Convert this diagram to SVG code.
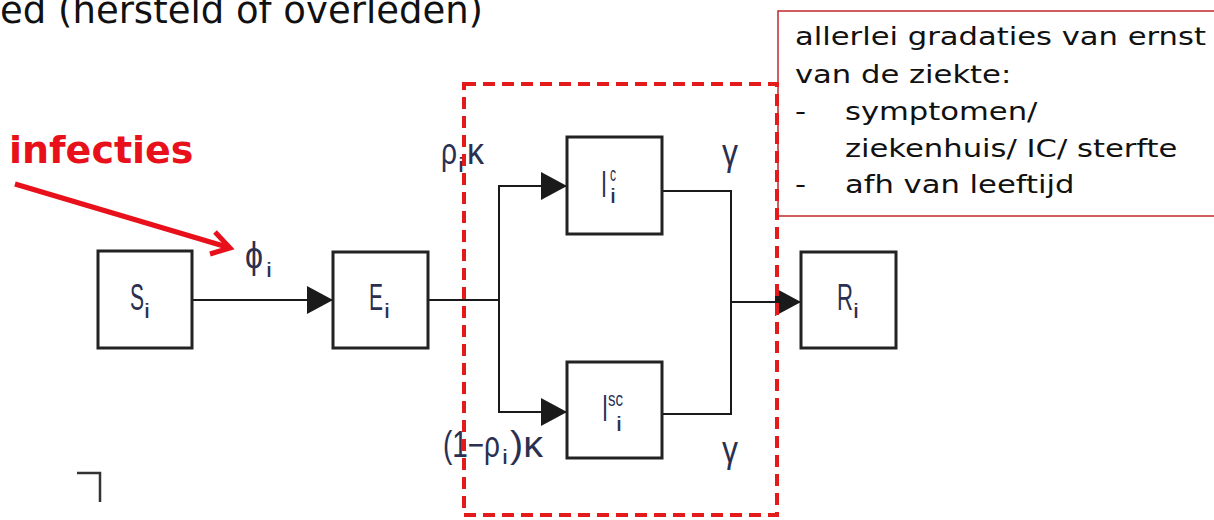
<svg xmlns="http://www.w3.org/2000/svg" width="1214" height="520" viewBox="0 0 1214 520">
<style>
.box{fill:#fff;stroke:#222;stroke-width:3}
.con{fill:none;stroke:#1a1a1a;stroke-width:2}
.lab{font-family:"Liberation Sans",Arial,sans-serif;font-size:36px;fill:#2b3050}
.sub{font-family:"Liberation Sans",Arial,sans-serif;font-size:21px;fill:#2b3050}
.note{font-family:"DejaVu Sans",Verdana,sans-serif;font-size:25px;fill:#111}
</style>
<defs>
<marker id="ah" markerUnits="userSpaceOnUse" markerWidth="26" markerHeight="28" refX="26" refY="14" orient="auto">
<path d="M0,0 L26,14 L0,28 z" fill="#1a1a1a"/>
</marker>
</defs>
<rect width="1214" height="520" fill="#fff"/>
<text x="0" y="23" font-family="DejaVu Sans, Verdana, sans-serif" font-size="37" fill="#111">ed (hersteld of overleden)</text>

<g id="note">
<rect x="778" y="11" width="460" height="205" fill="#fff" stroke="#c0282d" stroke-width="1.5"/>
<g transform="translate(795 0) scale(1.225 1)">
<text class="note" x="0" y="45">allerlei gradaties van ernst</text>
<text class="note" x="0" y="83">van de ziekte:</text>
<text class="note" x="0" y="120">-</text>
<text class="note" x="40.8" y="120">symptomen/</text>
<text class="note" x="40.8" y="157">ziekenhuis/ IC/ sterfte</text>
<text class="note" x="0" y="193">-</text>
<text class="note" x="40.8" y="193">afh van leeftijd</text>
</g>
</g>

<g id="connectors">
<path class="con" d="M192,300 H333" marker-end="url(#ah)"/>
<path class="con" d="M428,300 H499"/>
<path class="con" d="M499,300 V186 H567" marker-end="url(#ah)"/>
<path class="con" d="M499,300 V412 H567" marker-end="url(#ah)"/>
<path class="con" d="M662,191 H731 V414 H662"/>
<path class="con" d="M731,302 H801" stroke-width="3" marker-end="url(#ah)"/>
</g>

<g id="labels">
<text class="lab" x="245" y="268" textLength="18" lengthAdjust="spacingAndGlyphs">ϕ</text>
<text class="sub" x="266" y="277" textLength="6" lengthAdjust="spacingAndGlyphs">i</text>
<text class="lab" x="441" y="164" textLength="16" lengthAdjust="spacingAndGlyphs">ρ</text>
<text class="sub" x="458" y="172" textLength="6" lengthAdjust="spacingAndGlyphs">i</text>
<text class="lab" x="467" y="164" textLength="17" lengthAdjust="spacingAndGlyphs">κ</text>
<text class="lab" x="722" y="165" textLength="16" lengthAdjust="spacingAndGlyphs">γ</text>
<text class="lab" x="722" y="462" textLength="16" lengthAdjust="spacingAndGlyphs">γ</text>
<text class="lab" x="443" y="457" textLength="57" lengthAdjust="spacingAndGlyphs">(1−ρ</text>
<text class="sub" x="502" y="464" textLength="6" lengthAdjust="spacingAndGlyphs">i</text>
<text class="lab" x="510" y="457" textLength="33" lengthAdjust="spacingAndGlyphs">)κ</text>
</g>

<g id="S">
<rect class="box" x="98" y="251" width="94" height="97"/>
<text class="lab" x="130" y="310" textLength="14" lengthAdjust="spacingAndGlyphs">S</text>
<text class="sub" x="144" y="318" textLength="6" lengthAdjust="spacingAndGlyphs">i</text>
</g>
<g id="E">
<rect class="box" x="333" y="252" width="95" height="96"/>
<text class="lab" x="369" y="310" textLength="14" lengthAdjust="spacingAndGlyphs">E</text>
<text class="sub" x="384" y="318" textLength="6" lengthAdjust="spacingAndGlyphs">i</text>
</g>
<g id="Ic">
<rect class="box" x="567" y="137" width="95" height="97"/>
<text class="lab" x="601" y="197" font-size="34" textLength="6" lengthAdjust="spacingAndGlyphs">I</text>
<text class="sub" x="610" y="181" font-size="17" textLength="6" lengthAdjust="spacingAndGlyphs">c</text>
<text class="sub" x="610" y="203" font-size="20" textLength="6" lengthAdjust="spacingAndGlyphs">i</text>
</g>
<g id="Isc">
<rect class="box" x="567" y="362" width="95" height="96"/>
<text class="lab" x="602" y="421" font-size="32" textLength="6" lengthAdjust="spacingAndGlyphs">I</text>
<text class="sub" x="608" y="406" font-size="17" textLength="15" lengthAdjust="spacingAndGlyphs">sc</text>
<text class="sub" x="616" y="431" font-size="20" textLength="6" lengthAdjust="spacingAndGlyphs">i</text>
</g>
<g id="R">
<rect class="box" x="801" y="252" width="95" height="96"/>
<text class="lab" x="837" y="310" textLength="16" lengthAdjust="spacingAndGlyphs">R</text>
<text class="sub" x="853" y="318" textLength="6" lengthAdjust="spacingAndGlyphs">i</text>
</g>

<g id="group">
<rect x="464" y="84" width="313" height="431" fill="none" stroke="#e31b1b" stroke-width="4" stroke-dasharray="12 7"/>
</g>

<g id="infecties">
<text x="9" y="163" font-family="DejaVu Sans, Verdana, sans-serif" font-weight="bold" font-size="38" fill="#e8101a">infecties</text>
<path d="M15,184 L227,247" stroke="#e8101a" stroke-width="5" fill="none"/>
<path d="M215,232 L230,248 L210,254" stroke="#e8101a" stroke-width="5" fill="none" stroke-linejoin="miter"/>
</g>

<path d="M77,473 H100 V502" fill="none" stroke="#333" stroke-width="2.5"/>
</svg>
